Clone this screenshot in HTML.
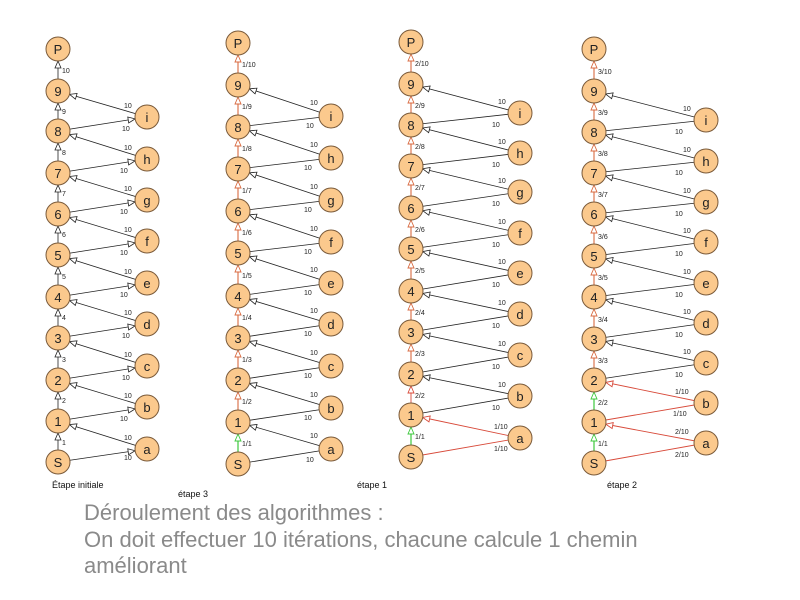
<!DOCTYPE html>
<html><head><meta charset="utf-8"><style>
html,body{margin:0;padding:0;background:#fff;width:800px;height:600px;overflow:hidden}
svg{position:absolute;left:0;top:0}
.n{fill:#fbc98d;stroke:#7a5a3a;stroke-width:1}
.t{font-family:"Liberation Sans",sans-serif;font-size:13px;text-anchor:middle;fill:#222}
.l{font-family:"Liberation Sans",sans-serif;font-size:7px;fill:#222}
.k{stroke:#222;stroke-width:0.8;fill:none}
.r{stroke:#d84a3a;stroke-width:0.9;fill:none}
.o{stroke:#d86a40;stroke-width:1.1;fill:none}
.g{stroke:#3cc83c;stroke-width:1.2;fill:none}
.big{font-family:"Liberation Sans",sans-serif;font-size:22px;fill:#8a8a8a}
.cap{font-family:"Liberation Sans",sans-serif;font-size:9px;fill:#111}
</style></head><body>
<svg width="800" height="600" viewBox="0 0 800 600">
<defs>
<marker id="ak" markerUnits="userSpaceOnUse" orient="auto" refX="12" refY="0" overflow="visible" markerWidth="1" markerHeight="1"><path d="M0,0 L-7,-3 L-7,3 Z" fill="#fff" stroke="#222" stroke-width="0.8"/></marker>
<marker id="ar" markerUnits="userSpaceOnUse" orient="auto" refX="12" refY="0" overflow="visible" markerWidth="1" markerHeight="1"><path d="M0,0 L-7,-3 L-7,3 Z" fill="#fff" stroke="#d84a3a" stroke-width="0.9"/></marker>
<marker id="ao" markerUnits="userSpaceOnUse" orient="auto" refX="12" refY="0" overflow="visible" markerWidth="1" markerHeight="1"><path d="M0,0 L-7,-3 L-7,3 Z" fill="#fff" stroke="#d86a40" stroke-width="0.9"/></marker>
<marker id="ag" markerUnits="userSpaceOnUse" orient="auto" refX="12" refY="0" overflow="visible" markerWidth="1" markerHeight="1"><path d="M0,0 L-7,-3 L-7,3 Z" fill="#fff" stroke="#3cc83c" stroke-width="0.9"/></marker>
</defs>

<!-- ===== Column 1 ===== -->
<g>
<line class="k" x1="58" y1="462" x2="58" y2="421" marker-end="url(#ak)"/>
<line class="k" x1="58" y1="421" x2="58" y2="380" marker-end="url(#ak)"/>
<line class="k" x1="58" y1="380" x2="58" y2="338" marker-end="url(#ak)"/>
<line class="k" x1="58" y1="338" x2="58" y2="297" marker-end="url(#ak)"/>
<line class="k" x1="58" y1="297" x2="58" y2="255" marker-end="url(#ak)"/>
<line class="k" x1="58" y1="255" x2="58" y2="214" marker-end="url(#ak)"/>
<line class="k" x1="58" y1="214" x2="58" y2="173" marker-end="url(#ak)"/>
<line class="k" x1="58" y1="173" x2="58" y2="131" marker-end="url(#ak)"/>
<line class="k" x1="58" y1="131" x2="58" y2="91" marker-end="url(#ak)"/>
<line class="k" x1="58" y1="91" x2="58" y2="49" marker-end="url(#ak)"/>
<line class="k" x1="58" y1="462" x2="147" y2="449" marker-end="url(#ak)"/>
<line class="k" x1="147" y1="449" x2="58" y2="421" marker-end="url(#ak)"/>
<line class="k" x1="58" y1="421" x2="147" y2="407" marker-end="url(#ak)"/>
<line class="k" x1="147" y1="407" x2="58" y2="380" marker-end="url(#ak)"/>
<line class="k" x1="58" y1="380" x2="147" y2="366" marker-end="url(#ak)"/>
<line class="k" x1="147" y1="366" x2="58" y2="338" marker-end="url(#ak)"/>
<line class="k" x1="58" y1="338" x2="147" y2="324" marker-end="url(#ak)"/>
<line class="k" x1="147" y1="324" x2="58" y2="297" marker-end="url(#ak)"/>
<line class="k" x1="58" y1="297" x2="147" y2="283" marker-end="url(#ak)"/>
<line class="k" x1="147" y1="283" x2="58" y2="255" marker-end="url(#ak)"/>
<line class="k" x1="58" y1="255" x2="147" y2="241" marker-end="url(#ak)"/>
<line class="k" x1="147" y1="241" x2="58" y2="214" marker-end="url(#ak)"/>
<line class="k" x1="58" y1="214" x2="147" y2="200" marker-end="url(#ak)"/>
<line class="k" x1="147" y1="200" x2="58" y2="173" marker-end="url(#ak)"/>
<line class="k" x1="58" y1="173" x2="147" y2="159" marker-end="url(#ak)"/>
<line class="k" x1="147" y1="159" x2="58" y2="131" marker-end="url(#ak)"/>
<line class="k" x1="58" y1="131" x2="147" y2="117" marker-end="url(#ak)"/>
<line class="k" x1="147" y1="117" x2="58" y2="91" marker-end="url(#ak)"/>
<text class="l" x="62" y="445">1</text><text class="l" x="62" y="403">2</text><text class="l" x="62" y="362">3</text><text class="l" x="62" y="320">4</text><text class="l" x="62" y="279">5</text><text class="l" x="62" y="237">6</text><text class="l" x="62" y="196">7</text><text class="l" x="62" y="155">8</text><text class="l" x="62" y="114">9</text><text class="l" x="62" y="73">10</text>
<text class="l" x="124" y="440">10</text><text class="l" x="124" y="460">10</text>
<text class="l" x="124" y="398">10</text><text class="l" x="120" y="421">10</text>
<text class="l" x="124" y="357">10</text><text class="l" x="122" y="380">10</text>
<text class="l" x="124" y="315">10</text><text class="l" x="122" y="338">10</text>
<text class="l" x="124" y="274">10</text><text class="l" x="120" y="297">10</text>
<text class="l" x="124" y="232">10</text><text class="l" x="120" y="255">10</text>
<text class="l" x="124" y="191">10</text><text class="l" x="120" y="214">10</text>
<text class="l" x="124" y="150">10</text><text class="l" x="120" y="173">10</text>
<text class="l" x="124" y="108">10</text><text class="l" x="122" y="131">10</text>
<circle class="n" cx="58" cy="462" r="12"/><text class="t" x="58" y="467">S</text>
<circle class="n" cx="58" cy="421" r="12"/><text class="t" x="58" y="426">1</text>
<circle class="n" cx="58" cy="380" r="12"/><text class="t" x="58" y="385">2</text>
<circle class="n" cx="58" cy="338" r="12"/><text class="t" x="58" y="343">3</text>
<circle class="n" cx="58" cy="297" r="12"/><text class="t" x="58" y="302">4</text>
<circle class="n" cx="58" cy="255" r="12"/><text class="t" x="58" y="260">5</text>
<circle class="n" cx="58" cy="214" r="12"/><text class="t" x="58" y="219">6</text>
<circle class="n" cx="58" cy="173" r="12"/><text class="t" x="58" y="178">7</text>
<circle class="n" cx="58" cy="131" r="12"/><text class="t" x="58" y="136">8</text>
<circle class="n" cx="58" cy="91" r="12"/><text class="t" x="58" y="96">9</text>
<circle class="n" cx="58" cy="49" r="12"/><text class="t" x="58" y="54">P</text>
<circle class="n" cx="147" cy="449" r="12"/><text class="t" x="147" y="454">a</text>
<circle class="n" cx="147" cy="407" r="12"/><text class="t" x="147" y="412">b</text>
<circle class="n" cx="147" cy="366" r="12"/><text class="t" x="147" y="371">c</text>
<circle class="n" cx="147" cy="324" r="12"/><text class="t" x="147" y="329">d</text>
<circle class="n" cx="147" cy="283" r="12"/><text class="t" x="147" y="288">e</text>
<circle class="n" cx="147" cy="241" r="12"/><text class="t" x="147" y="246">f</text>
<circle class="n" cx="147" cy="200" r="12"/><text class="t" x="147" y="205">g</text>
<circle class="n" cx="147" cy="159" r="12"/><text class="t" x="147" y="164">h</text>
<circle class="n" cx="147" cy="117" r="12"/><text class="t" x="147" y="122">i</text>
</g>

<!-- ===== Column 2 (étape 3) ===== -->
<g>
<line class="g" x1="238" y1="464" x2="238" y2="422" marker-end="url(#ag)"/>
<line class="o" x1="238" y1="422" x2="238" y2="380" marker-end="url(#ao)"/>
<line class="o" x1="238" y1="380" x2="238" y2="338" marker-end="url(#ao)"/>
<line class="o" x1="238" y1="338" x2="238" y2="296" marker-end="url(#ao)"/>
<line class="o" x1="238" y1="296" x2="238" y2="253" marker-end="url(#ao)"/>
<line class="o" x1="238" y1="253" x2="238" y2="211" marker-end="url(#ao)"/>
<line class="o" x1="238" y1="211" x2="238" y2="169" marker-end="url(#ao)"/>
<line class="o" x1="238" y1="169" x2="238" y2="127" marker-end="url(#ao)"/>
<line class="o" x1="238" y1="127" x2="238" y2="85" marker-end="url(#ao)"/>
<line class="o" x1="238" y1="85" x2="238" y2="43" marker-end="url(#ao)"/>
<line class="k" x1="238" y1="464" x2="331" y2="449"/>
<line class="k" x1="331" y1="449" x2="238" y2="422" marker-end="url(#ak)"/>
<line class="k" x1="238" y1="422" x2="331" y2="408"/>
<line class="k" x1="331" y1="408" x2="238" y2="380" marker-end="url(#ak)"/>
<line class="k" x1="238" y1="380" x2="331" y2="366"/>
<line class="k" x1="331" y1="366" x2="238" y2="338" marker-end="url(#ak)"/>
<line class="k" x1="238" y1="338" x2="331" y2="324"/>
<line class="k" x1="331" y1="324" x2="238" y2="296" marker-end="url(#ak)"/>
<line class="k" x1="238" y1="296" x2="331" y2="283"/>
<line class="k" x1="331" y1="283" x2="238" y2="253" marker-end="url(#ak)"/>
<line class="k" x1="238" y1="253" x2="331" y2="242"/>
<line class="k" x1="331" y1="242" x2="238" y2="211" marker-end="url(#ak)"/>
<line class="k" x1="238" y1="211" x2="331" y2="200"/>
<line class="k" x1="331" y1="200" x2="238" y2="169" marker-end="url(#ak)"/>
<line class="k" x1="238" y1="169" x2="331" y2="158"/>
<line class="k" x1="331" y1="158" x2="238" y2="127" marker-end="url(#ak)"/>
<line class="k" x1="238" y1="127" x2="331" y2="116"/>
<line class="k" x1="331" y1="116" x2="238" y2="85" marker-end="url(#ak)"/>
<text class="l" x="242" y="446">1/1</text><text class="l" x="242" y="404">1/2</text><text class="l" x="242" y="362">1/3</text><text class="l" x="242" y="320">1/4</text><text class="l" x="242" y="278">1/5</text><text class="l" x="242" y="235">1/6</text><text class="l" x="242" y="193">1/7</text><text class="l" x="242" y="151">1/8</text><text class="l" x="242" y="109">1/9</text><text class="l" x="242" y="67">1/10</text>
<text class="l" x="310" y="438">10</text><text class="l" x="306" y="462">10</text>
<text class="l" x="310" y="397">10</text><text class="l" x="304" y="420">10</text>
<text class="l" x="310" y="355">10</text><text class="l" x="304" y="378">10</text>
<text class="l" x="310" y="313">10</text><text class="l" x="304" y="336">10</text>
<text class="l" x="310" y="272">10</text><text class="l" x="304" y="295">10</text>
<text class="l" x="310" y="231">10</text><text class="l" x="304" y="254">10</text>
<text class="l" x="310" y="189">10</text><text class="l" x="304" y="212">10</text>
<text class="l" x="310" y="147">10</text><text class="l" x="304" y="170">10</text>
<text class="l" x="310" y="105">10</text><text class="l" x="306" y="128">10</text>
<circle class="n" cx="238" cy="464" r="12"/><text class="t" x="238" y="469">S</text>
<circle class="n" cx="238" cy="422" r="12"/><text class="t" x="238" y="427">1</text>
<circle class="n" cx="238" cy="380" r="12"/><text class="t" x="238" y="385">2</text>
<circle class="n" cx="238" cy="338" r="12"/><text class="t" x="238" y="343">3</text>
<circle class="n" cx="238" cy="296" r="12"/><text class="t" x="238" y="301">4</text>
<circle class="n" cx="238" cy="253" r="12"/><text class="t" x="238" y="258">5</text>
<circle class="n" cx="238" cy="211" r="12"/><text class="t" x="238" y="216">6</text>
<circle class="n" cx="238" cy="169" r="12"/><text class="t" x="238" y="174">7</text>
<circle class="n" cx="238" cy="127" r="12"/><text class="t" x="238" y="132">8</text>
<circle class="n" cx="238" cy="85" r="12"/><text class="t" x="238" y="90">9</text>
<circle class="n" cx="238" cy="43" r="12"/><text class="t" x="238" y="48">P</text>
<circle class="n" cx="331" cy="449" r="12"/><text class="t" x="331" y="454">a</text>
<circle class="n" cx="331" cy="408" r="12"/><text class="t" x="331" y="413">b</text>
<circle class="n" cx="331" cy="366" r="12"/><text class="t" x="331" y="371">c</text>
<circle class="n" cx="331" cy="324" r="12"/><text class="t" x="331" y="329">d</text>
<circle class="n" cx="331" cy="283" r="12"/><text class="t" x="331" y="288">e</text>
<circle class="n" cx="331" cy="242" r="12"/><text class="t" x="331" y="247">f</text>
<circle class="n" cx="331" cy="200" r="12"/><text class="t" x="331" y="205">g</text>
<circle class="n" cx="331" cy="158" r="12"/><text class="t" x="331" y="163">h</text>
<circle class="n" cx="331" cy="116" r="12"/><text class="t" x="331" y="121">i</text>
</g>

<!-- ===== Column 3 (étape 1) ===== -->
<g>
<line class="g" x1="411" y1="457" x2="411" y2="415" marker-end="url(#ag)"/>
<line class="r" x1="411" y1="415" x2="411" y2="374" marker-end="url(#ar)"/>
<line class="o" x1="411" y1="374" x2="411" y2="332" marker-end="url(#ao)"/>
<line class="o" x1="411" y1="332" x2="411" y2="291" marker-end="url(#ao)"/>
<line class="o" x1="411" y1="291" x2="411" y2="249" marker-end="url(#ao)"/>
<line class="o" x1="411" y1="249" x2="411" y2="208" marker-end="url(#ao)"/>
<line class="o" x1="411" y1="208" x2="411" y2="166" marker-end="url(#ao)"/>
<line class="o" x1="411" y1="166" x2="411" y2="125" marker-end="url(#ao)"/>
<line class="o" x1="411" y1="125" x2="411" y2="84" marker-end="url(#ao)"/>
<line class="o" x1="411" y1="84" x2="411" y2="42" marker-end="url(#ao)"/>
<line class="r" x1="411" y1="457" x2="520" y2="438"/>
<line class="r" x1="520" y1="438" x2="411" y2="415" marker-end="url(#ar)"/>
<line class="k" x1="411" y1="415" x2="520" y2="396"/>
<line class="k" x1="520" y1="396" x2="411" y2="374" marker-end="url(#ak)"/>
<line class="k" x1="411" y1="374" x2="520" y2="355"/>
<line class="k" x1="520" y1="355" x2="411" y2="332" marker-end="url(#ak)"/>
<line class="k" x1="411" y1="332" x2="520" y2="314"/>
<line class="k" x1="520" y1="314" x2="411" y2="291" marker-end="url(#ak)"/>
<line class="k" x1="411" y1="291" x2="520" y2="273"/>
<line class="k" x1="520" y1="273" x2="411" y2="249" marker-end="url(#ak)"/>
<line class="k" x1="411" y1="249" x2="520" y2="233"/>
<line class="k" x1="520" y1="233" x2="411" y2="208" marker-end="url(#ak)"/>
<line class="k" x1="411" y1="208" x2="520" y2="192"/>
<line class="k" x1="520" y1="192" x2="411" y2="166" marker-end="url(#ak)"/>
<line class="k" x1="411" y1="166" x2="520" y2="153"/>
<line class="k" x1="520" y1="153" x2="411" y2="125" marker-end="url(#ak)"/>
<line class="k" x1="411" y1="125" x2="520" y2="113"/>
<line class="k" x1="520" y1="113" x2="411" y2="84" marker-end="url(#ak)"/>
<text class="l" x="415" y="439">1/1</text><text class="l" x="415" y="398">2/2</text><text class="l" x="415" y="356">2/3</text><text class="l" x="415" y="315">2/4</text><text class="l" x="415" y="273">2/5</text><text class="l" x="415" y="232">2/6</text><text class="l" x="415" y="190">2/7</text><text class="l" x="415" y="149">2/8</text><text class="l" x="415" y="108">2/9</text><text class="l" x="415" y="66">2/10</text>
<text class="l" x="494" y="429">1/10</text><text class="l" x="494" y="451">1/10</text>
<text class="l" x="498" y="387">10</text><text class="l" x="492" y="410">10</text>
<text class="l" x="498" y="346">10</text><text class="l" x="492" y="369">10</text>
<text class="l" x="498" y="305">10</text><text class="l" x="492" y="328">10</text>
<text class="l" x="498" y="264">10</text><text class="l" x="492" y="287">10</text>
<text class="l" x="498" y="224">10</text><text class="l" x="492" y="247">10</text>
<text class="l" x="498" y="183">10</text><text class="l" x="492" y="206">10</text>
<text class="l" x="498" y="144">10</text><text class="l" x="492" y="167">10</text>
<text class="l" x="498" y="104">10</text><text class="l" x="492" y="127">10</text>
<circle class="n" cx="411" cy="457" r="12"/><text class="t" x="411" y="462">S</text>
<circle class="n" cx="411" cy="415" r="12"/><text class="t" x="411" y="420">1</text>
<circle class="n" cx="411" cy="374" r="12"/><text class="t" x="411" y="379">2</text>
<circle class="n" cx="411" cy="332" r="12"/><text class="t" x="411" y="337">3</text>
<circle class="n" cx="411" cy="291" r="12"/><text class="t" x="411" y="296">4</text>
<circle class="n" cx="411" cy="249" r="12"/><text class="t" x="411" y="254">5</text>
<circle class="n" cx="411" cy="208" r="12"/><text class="t" x="411" y="213">6</text>
<circle class="n" cx="411" cy="166" r="12"/><text class="t" x="411" y="171">7</text>
<circle class="n" cx="411" cy="125" r="12"/><text class="t" x="411" y="130">8</text>
<circle class="n" cx="411" cy="84" r="12"/><text class="t" x="411" y="89">9</text>
<circle class="n" cx="411" cy="42" r="12"/><text class="t" x="411" y="47">P</text>
<circle class="n" cx="520" cy="438" r="12"/><text class="t" x="520" y="443">a</text>
<circle class="n" cx="520" cy="396" r="12"/><text class="t" x="520" y="401">b</text>
<circle class="n" cx="520" cy="355" r="12"/><text class="t" x="520" y="360">c</text>
<circle class="n" cx="520" cy="314" r="12"/><text class="t" x="520" y="319">d</text>
<circle class="n" cx="520" cy="273" r="12"/><text class="t" x="520" y="278">e</text>
<circle class="n" cx="520" cy="233" r="12"/><text class="t" x="520" y="238">f</text>
<circle class="n" cx="520" cy="192" r="12"/><text class="t" x="520" y="197">g</text>
<circle class="n" cx="520" cy="153" r="12"/><text class="t" x="520" y="158">h</text>
<circle class="n" cx="520" cy="113" r="12"/><text class="t" x="520" y="118">i</text>
</g>

<!-- ===== Column 4 (étape 2) ===== -->
<g>
<line class="g" x1="594" y1="463" x2="594" y2="422" marker-end="url(#ag)"/>
<line class="g" x1="594" y1="422" x2="594" y2="380" marker-end="url(#ag)"/>
<line class="o" x1="594" y1="380" x2="594" y2="339" marker-end="url(#ao)"/>
<line class="o" x1="594" y1="339" x2="594" y2="297" marker-end="url(#ao)"/>
<line class="o" x1="594" y1="297" x2="594" y2="256" marker-end="url(#ao)"/>
<line class="o" x1="594" y1="256" x2="594" y2="214" marker-end="url(#ao)"/>
<line class="o" x1="594" y1="214" x2="594" y2="173" marker-end="url(#ao)"/>
<line class="o" x1="594" y1="173" x2="594" y2="132" marker-end="url(#ao)"/>
<line class="o" x1="594" y1="132" x2="594" y2="91" marker-end="url(#ao)"/>
<line class="o" x1="594" y1="91" x2="594" y2="49" marker-end="url(#ao)"/>
<line class="r" x1="594" y1="463" x2="706" y2="443"/>
<line class="r" x1="706" y1="443" x2="594" y2="422" marker-end="url(#ar)"/>
<line class="r" x1="594" y1="422" x2="706" y2="403"/>
<line class="r" x1="706" y1="403" x2="594" y2="380" marker-end="url(#ar)"/>
<line class="k" x1="594" y1="380" x2="706" y2="363"/>
<line class="k" x1="706" y1="363" x2="594" y2="339" marker-end="url(#ak)"/>
<line class="k" x1="594" y1="339" x2="706" y2="323"/>
<line class="k" x1="706" y1="323" x2="594" y2="297" marker-end="url(#ak)"/>
<line class="k" x1="594" y1="297" x2="706" y2="283"/>
<line class="k" x1="706" y1="283" x2="594" y2="256" marker-end="url(#ak)"/>
<line class="k" x1="594" y1="256" x2="706" y2="242"/>
<line class="k" x1="706" y1="242" x2="594" y2="214" marker-end="url(#ak)"/>
<line class="k" x1="594" y1="214" x2="706" y2="202"/>
<line class="k" x1="706" y1="202" x2="594" y2="173" marker-end="url(#ak)"/>
<line class="k" x1="594" y1="173" x2="706" y2="161"/>
<line class="k" x1="706" y1="161" x2="594" y2="132" marker-end="url(#ak)"/>
<line class="k" x1="594" y1="132" x2="706" y2="120"/>
<line class="k" x1="706" y1="120" x2="594" y2="91" marker-end="url(#ak)"/>
<text class="l" x="598" y="446">1/1</text><text class="l" x="598" y="405">2/2</text><text class="l" x="598" y="363">3/3</text><text class="l" x="598" y="322">3/4</text><text class="l" x="598" y="280">3/5</text><text class="l" x="598" y="239">3/6</text><text class="l" x="598" y="197">3/7</text><text class="l" x="598" y="156">3/8</text><text class="l" x="598" y="115">3/9</text><text class="l" x="598" y="74">3/10</text>
<text class="l" x="675" y="434">2/10</text><text class="l" x="675" y="457">2/10</text>
<text class="l" x="675" y="394">1/10</text><text class="l" x="673" y="416">1/10</text>
<text class="l" x="683" y="354">10</text><text class="l" x="675" y="377">10</text>
<text class="l" x="683" y="314">10</text><text class="l" x="675" y="337">10</text>
<text class="l" x="683" y="274">10</text><text class="l" x="675" y="297">10</text>
<text class="l" x="683" y="233">10</text><text class="l" x="675" y="256">10</text>
<text class="l" x="683" y="193">10</text><text class="l" x="675" y="216">10</text>
<text class="l" x="683" y="152">10</text><text class="l" x="675" y="175">10</text>
<text class="l" x="683" y="111">10</text><text class="l" x="675" y="134">10</text>
<circle class="n" cx="594" cy="463" r="12"/><text class="t" x="594" y="468">S</text>
<circle class="n" cx="594" cy="422" r="12"/><text class="t" x="594" y="427">1</text>
<circle class="n" cx="594" cy="380" r="12"/><text class="t" x="594" y="385">2</text>
<circle class="n" cx="594" cy="339" r="12"/><text class="t" x="594" y="344">3</text>
<circle class="n" cx="594" cy="297" r="12"/><text class="t" x="594" y="302">4</text>
<circle class="n" cx="594" cy="256" r="12"/><text class="t" x="594" y="261">5</text>
<circle class="n" cx="594" cy="214" r="12"/><text class="t" x="594" y="219">6</text>
<circle class="n" cx="594" cy="173" r="12"/><text class="t" x="594" y="178">7</text>
<circle class="n" cx="594" cy="132" r="12"/><text class="t" x="594" y="137">8</text>
<circle class="n" cx="594" cy="91" r="12"/><text class="t" x="594" y="96">9</text>
<circle class="n" cx="594" cy="49" r="12"/><text class="t" x="594" y="54">P</text>
<circle class="n" cx="706" cy="443" r="12"/><text class="t" x="706" y="448">a</text>
<circle class="n" cx="706" cy="403" r="12"/><text class="t" x="706" y="408">b</text>
<circle class="n" cx="706" cy="363" r="12"/><text class="t" x="706" y="368">c</text>
<circle class="n" cx="706" cy="323" r="12"/><text class="t" x="706" y="328">d</text>
<circle class="n" cx="706" cy="283" r="12"/><text class="t" x="706" y="288">e</text>
<circle class="n" cx="706" cy="242" r="12"/><text class="t" x="706" y="247">f</text>
<circle class="n" cx="706" cy="202" r="12"/><text class="t" x="706" y="207">g</text>
<circle class="n" cx="706" cy="161" r="12"/><text class="t" x="706" y="166">h</text>
<circle class="n" cx="706" cy="120" r="12"/><text class="t" x="706" y="125">i</text>
</g>

<text class="cap" x="52" y="488">Étape initiale</text>
<text class="cap" x="178" y="497">étape 3</text>
<text class="cap" x="357" y="488">étape 1</text>
<text class="cap" x="607" y="488">étape 2</text>
<text class="big" x="84" y="520">Déroulement des algorithmes :</text>
<text class="big" x="84" y="547">On doit effectuer 10 itérations, chacune calcule 1 chemin</text>
<text class="big" x="84" y="573">améliorant</text>
</svg>
</body></html>
